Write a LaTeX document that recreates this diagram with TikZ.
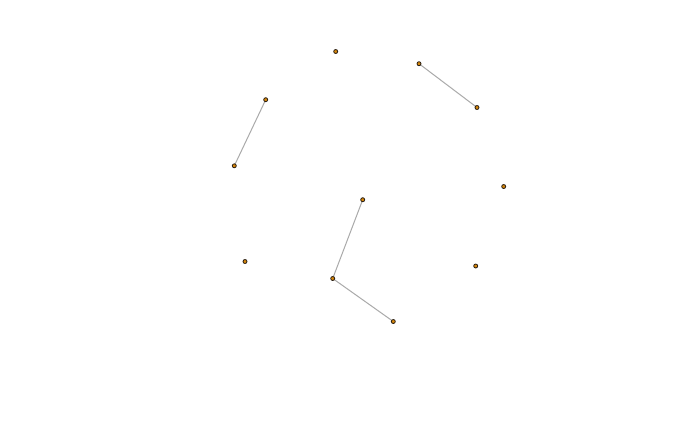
\documentclass[tikz,border=0pt]{standalone}
\usetikzlibrary{backgrounds}
\begin{document}
\begin{tikzpicture}[x=1pt,y=-1pt,
  dot/.style={circle,fill={rgb,255:red,215;green,135;blue,10},draw={rgb,255:red,40;green,30;blue,20},line width=0.8pt,inner sep=0pt,minimum size=4pt},
  link/.style={draw={rgb,255:red,170;green,170;blue,170},line width=1pt}]
\useasboundingbox (0,0) rectangle (700,432);
\node[dot] (a) at (335.7,51.5) {};
\node[dot] (b) at (419,63.7) {};
\node[dot] (c) at (477,107.5) {};
\node[dot] (d) at (265.7,99.7) {};
\node[dot] (e) at (234.3,165.8) {};
\node[dot] (f) at (503.7,186.5) {};
\node[dot] (g) at (362.7,199.7) {};
\node[dot] (h) at (245,261.5) {};
\node[dot] (i) at (475.7,266) {};
\node[dot] (j) at (332.7,278.5) {};
\node[dot] (k) at (393.3,321.5) {};
\begin{scope}[on background layer]
\fill[white] (0,0) rectangle (700,432);
\path[link] (d.center) -- (e.center);
\path[link] (b.center) -- (c.center);
\path[link] (g.center) -- (j.center);
\path[link] (j.center) -- (k.center);
\end{scope}
\end{tikzpicture}
\end{document}
